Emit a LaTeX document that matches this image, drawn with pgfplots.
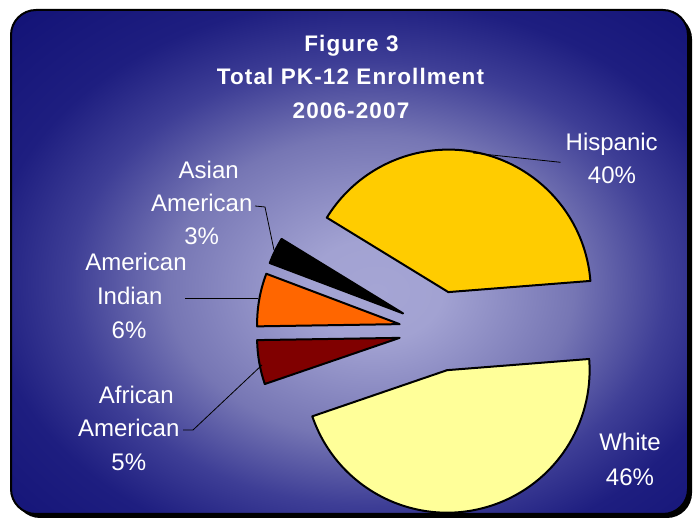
\documentclass[border=0pt]{standalone}
\usepackage{pgfplots}
\pgfplotsset{compat=1.18}
\usepackage{pgfplotstable}
\usepackage{fontspec}
\setmainfont{Liberation Sans}
\newfontfamily\titlefont[LetterSpace=5]{Liberation Sans}

\definecolor{hisp}{RGB}{255,204,0}
\definecolor{asian}{RGB}{0,0,0}
\definecolor{amind}{RGB}{255,102,0}
\definecolor{afam}{RGB}{128,0,0}
\definecolor{whitec}{RGB}{255,255,153}

\pgfdeclareradialshading{bgshade}{\pgfpoint{2bp}{-3bp}}{%
  color(0bp)=(rgb,255:red,165;green,165;blue,212);
  color(5bp)=(rgb,255:red,162;green,162;blue,210);
  color(15bp)=(rgb,255:red,118;green,118;blue,180);
  color(22bp)=(rgb,255:red,62;green,62;blue,150);
  color(28bp)=(rgb,255:red,30;green,30;blue,128);
  color(36bp)=(rgb,255:red,20;green,20;blue,120);
  color(75bp)=(rgb,255:red,18;green,18;blue,118)}

\pgfplotstableread{
group value color
Hispanic 40 hisp
Asian 3 asian
Indian 6 amind
African 5 afam
White 46 whitec
}\piedata

\xdef\runangle{4.5}
\newcommand\pieslice[1]{%
  \pgfplotstablegetelem{#1}{value}\of\piedata \let\pv\pgfplotsretval
  \pgfplotstablegetelem{#1}{color}\of\piedata \let\pc\pgfplotsretval
  \pgfmathsetmacro\sa{\runangle}%
  \pgfmathsetmacro\ea{\runangle+3.6*\pv}%
  \pgfmathsetmacro\ma{(\sa+\ea)/2}%
  \pgfmathsetmacro\apx{439+40*cos(\ma)}%
  \pgfmathsetmacro\apy{189+40*sin(\ma)}%
  \xdef\runangle{\ea}%
  \edef\temp{\noexpand\draw[line width=2pt,line join=round,fill=\pc] (axis cs:\apx,\apy) -- ++(\sa:142.5pt) arc[start angle=\sa,end angle=\ea,radius=142.5pt] -- cycle;}%
  \temp}

\begin{document}
\begin{tikzpicture}[x=1pt,y=1pt]
\useasboundingbox (0,0) rectangle (697,520);
\fill[white] (0,0) rectangle (697,520);
% shadow
\fill[black, rounded corners=25pt] (15,2) rectangle (692,506);
\path[shading=bgshade, rounded corners=25pt] (11,6) rectangle (688,510);
\draw[line width=2pt, rounded corners=25pt] (11,6) rectangle (688,510);

\begin{axis}[at={(0,0)}, anchor=south west, x=1pt, y=1pt,
  xmin=0, xmax=697, ymin=0, ymax=520, hide axis, clip=false]
\pieslice{0}
\pieslice{1}
\pieslice{2}
\pieslice{3}
\pieslice{4}

% leader lines
\draw[line width=0.8pt] (axis cs:473,367) -- (axis cs:560.5,357.7);
\draw[line width=0.8pt] (axis cs:255,314) -- (axis cs:265,313) -- (axis cs:274,270);
\draw[line width=0.8pt] (axis cs:185,222) -- (axis cs:258,222);
\draw[line width=0.8pt] (axis cs:183,90) -- (axis cs:193,90) -- (axis cs:262,155);

% title
\node[anchor=base, text=white, font=\titlefont\bfseries\fontsize{22.5}{26}\selectfont] at (axis cs:351.5,468.3) {Figure 3};
\node[anchor=base, text=white, font=\titlefont\bfseries\fontsize{22.5}{26}\selectfont] at (axis cs:350.5,435) {Total PK-12 Enrollment};
\node[anchor=base, text=white, font=\titlefont\bfseries\fontsize{22.5}{26}\selectfont] at (axis cs:351,401.7) {2006-2007};

% labels
\tikzset{lab/.style={anchor=base, text=white, inner sep=0pt, font=\fontsize{24}{28}\selectfont}}
\node[lab] at (axis cs:611.7,369.3) {Hispanic};
\node[lab] at (axis cs:612,336) {40\%};
\node[lab] at (axis cs:630,69.3) {White};
\node[lab] at (axis cs:630,34.3) {46\%};
\node[lab] at (axis cs:208.7,341.7) {Asian};
\node[lab] at (axis cs:201.7,308.3) {American};
\node[lab] at (axis cs:201.7,275) {3\%};
\node[lab] at (axis cs:136,249.3) {American};
\node[lab] at (axis cs:129.7,215) {Indian};
\node[lab] at (axis cs:129,181.7) {6\%};
\node[lab] at (axis cs:136.3,116.7) {African};
\node[lab] at (axis cs:128.7,83.3) {American};
\node[lab] at (axis cs:128.8,49.3) {5\%};
\end{axis}
\end{tikzpicture}
\end{document}
